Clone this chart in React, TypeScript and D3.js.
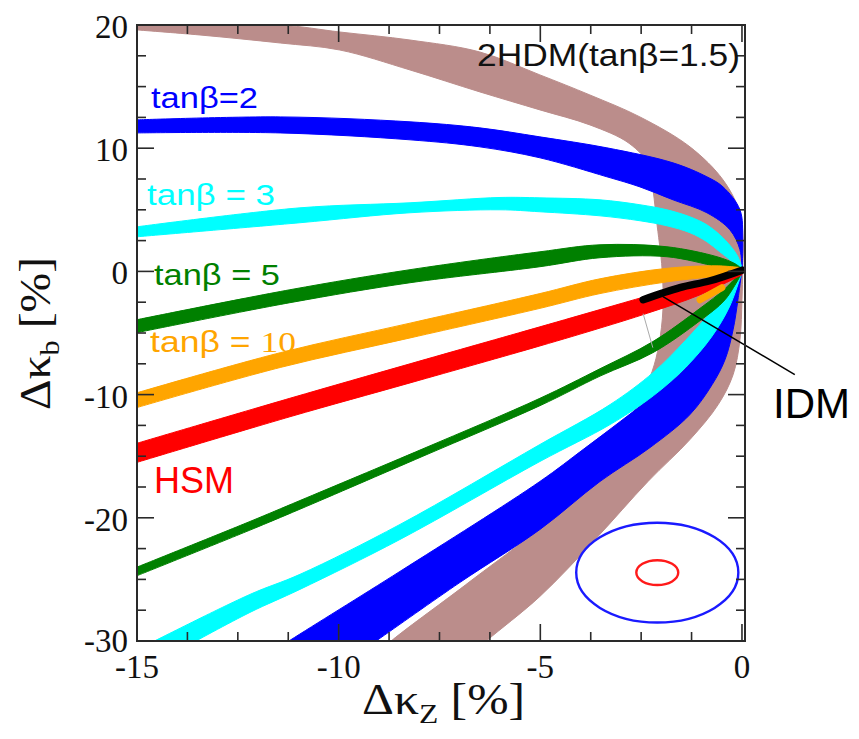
import React from 'react';
import * as d3 from 'd3';

type Pt = [number, number];

const W = 859;
const H = 739;

// ---- axes ----
const xDomain: [number, number] = [-15, 0.075];
const yDomain: [number, number] = [-30, 20];
const xMajorTicks = [-15, -10, -5, 0];
const xMinorTicks = [-13.75, -12.5, -11.25, -8.75, -7.5, -6.25, -3.75, -2.5, -1.25];
const yMajorTicks = [-30, -20, -10, 0, 10, 20];
const yMinorTicks = [-27.5, -25, -22.5, -17.5, -15, -12.5, -7.5, -5, -2.5, 2.5, 5, 7.5, 12.5, 15, 17.5];

// ---- bands (edges, in data units) ----
const brownOuter: Pt[] = [
  [-15.0, 20.05], [-11.45, 20.0], [-9.97, 19.43], [-8.23, 18.78], [-6.5, 17.81], [-5.01, 15.95],
  [-3.77, 14.32], [-2.53, 12.54], [-1.29, 10.11], [-0.47, 7.43], [-0.05, 4.76], [0.03, 2.5],
  [0.02, 0.14], [0.0, -2.3], [-0.05, -5.54], [-0.22, -8.38], [-0.59, -10.81], [-1.29, -13.65],
  [-2.33, -17.05], [-3.64, -21.76], [-5.01, -26.38], [-6.32, -29.95], [-6.75, -31.2],
];
const brownInner: Pt[] = [
  [-15.0, 19.6], [-13.44, 19.19], [-11.45, 18.54], [-9.97, 17.97], [-8.23, 16.35], [-6.5, 14.57],
  [-5.01, 13.11], [-3.77, 11.89], [-2.8, 10.4], [-2.3, 8.6], [-2.2, 6.5], [-2.12, 4.19], [-1.98, 0.14],
  [-1.96, -3.11], [-2.06, -5.95], [-2.23, -8.14], [-2.6, -10.81], [-3.27, -14.46], [-5.01, -20.7],
  [-6.74, -25.16], [-8.68, -29.95], [-9.1, -31.2],
];

const blueUpperTop: Pt[] = [
  [-15.0, 12.3], [-11.45, 12.54], [-8.23, 12.14], [-6.5, 11.65], [-5.01, 10.92], [-3.35, 10.03],
  [-1.71, 8.81], [-0.87, 7.68], [-0.47, 6.86], [-0.05, 5.0], [0.02, 2.57], [0.0, 0.14],
];
const blueUpperBottom: Pt[] = [
  [-15.0, 11.24], [-11.45, 11.24], [-8.23, 10.68], [-6.5, 10.11], [-5.01, 9.22], [-3.35, 7.68],
  [-2.53, 6.86], [-1.71, 5.81], [-0.87, 4.76], [-0.3, 3.38], [-0.05, 1.76], [0.0, 0.14],
];
const blueLowerLeft: Pt[] = [
  [0.0, 0.14], [-0.1, -1.08], [-0.35, -2.7], [-0.79, -5.14], [-1.36, -7.73], [-2.16, -10.0],
  [-3.02, -12.19], [-3.94, -14.46], [-5.01, -17.05], [-8.48, -24.35], [-11.21, -29.95], [-11.8, -31.2],
];
const blueLowerRight: Pt[] = [
  [0.0, 0.14], [-0.1, -2.3], [-0.22, -4.73], [-0.42, -7.16], [-0.74, -9.19], [-1.29, -11.62],
  [-2.28, -14.3], [-3.52, -17.05], [-5.01, -20.95], [-6.99, -25.24], [-9.05, -29.95], [-9.6, -31.2],
];

const cyanUpperTop: Pt[] = [
  [-15.0, 3.62], [-10.96, 5.16], [-8.23, 5.57], [-6.0, 6.0], [-5.01, 5.97], [-3.52, 5.81],
  [-2.53, 5.41], [-1.86, 5.0], [-1.29, 4.43], [-0.87, 3.78], [-0.55, 2.97], [-0.27, 2.0],
  [-0.1, 1.19], [0.0, 0.3],
];
const cyanUpperBottom: Pt[] = [
  [-15.0, 2.81], [-10.96, 3.95], [-8.23, 4.76], [-6.0, 5.0], [-5.01, 4.84], [-3.52, 4.51],
  [-2.53, 4.11], [-1.86, 3.7], [-1.29, 3.14], [-0.87, 2.41], [-0.55, 1.59], [-0.27, 0.86],
  [-0.1, 0.3], [0.0, -0.11],
];
const cyanLowerUpper: Pt[] = [
  [-14.73, -30.27], [-12.2, -26.22], [-10.96, -24.59], [-8.48, -20.54], [-5.01, -14.05],
  [-3.27, -10.81], [-2.2, -8.2], [-1.4, -5.6], [-0.75, -3.2], [-0.3, -1.3], [0.0, 0.1],
];
const cyanLowerLower: Pt[] = [
  [-13.69, -30.27], [-12.2, -27.68], [-10.96, -25.81], [-8.48, -21.76], [-5.01, -15.43],
  [-3.27, -12.43], [-2.2, -10.1], [-1.4, -7.8], [-0.75, -5.3], [-0.3, -2.8], [0.0, -0.03],
];

const greenUpperTop: Pt[] = [
  [-15.0, -3.92], [-11.21, -1.49], [-8.23, 0.14], [-5.01, 1.59], [-3.52, 2.16], [-1.86, 2.0],
  [-0.62, 1.19], [-0.17, 0.62], [0.0, 0.2],
];
const greenUpperBottom: Pt[] = [
  [-15.0, -4.97], [-11.21, -2.54], [-8.23, -0.92], [-5.01, 0.38], [-3.52, 1.11], [-1.86, 1.19],
  [-0.62, 0.38], [-0.17, 0.05], [0.0, -0.05],
];
const greenLowerUpper: Pt[] = [
  [-15.0, -24.0], [-12.2, -20.3], [-10.96, -18.6], [-7.91, -14.4], [-5.01, -10.3], [-3.52, -7.9],
  [-2.21, -5.7], [-1.04, -3.0], [-0.42, -1.4], [0.0, 0.05],
];
const greenLowerLower: Pt[] = [
  [-15.0, -24.7], [-12.2, -21.0], [-10.96, -19.3], [-7.91, -15.0], [-5.01, -10.9], [-3.52, -8.5],
  [-2.21, -6.6], [-1.04, -4.0], [-0.42, -2.3], [0.0, -0.1],
];

const orangeTop: Pt[] = [
  [-15.0, -9.85], [-11.45, -6.6], [-8.23, -4.2], [-5.01, -1.8], [-3.52, -0.6], [-1.86, 0.25],
  [-0.62, 0.45], [0.0, 0.3],
];
const orangeBottom: Pt[] = [
  [-15.0, -11.05], [-11.45, -7.8], [-8.23, -5.4], [-5.01, -3.0], [-3.52, -1.8], [-1.86, -0.85],
  [-0.62, -0.4], [0.0, -0.2],
];
const orangeBlob: Pt[] = [[-1.04, -2.3], [-0.5, -1.33]];

const redTop: Pt[] = [
  [-15.0, -13.95], [-11.21, -10.3], [-8.23, -7.5], [-5.01, -4.5], [-3.52, -3.1], [-2.35, -2.0],
  [-1.04, -0.8], [0.0, 0.22],
];
const redBottom: Pt[] = [
  [-15.0, -15.5], [-11.21, -11.8], [-8.23, -9.05], [-5.01, -6.05], [-3.52, -4.6], [-2.35, -3.4],
  [-1.04, -1.9], [0.0, -0.27],
];

const idmLine: Pt[] = [[-2.45, -2.3], [-1.54, -1.32], [-0.79, -0.76], [0.0, 0.1]];
const idmLeader: Pt[] = [[-1.96, -2.05], [1.31, -8.38]];
const greyTick: Pt[] = [[-2.45, -3.43], [-2.21, -6.19]];

const ellipseCenter: Pt = [-2.1, -24.45];
const ellipseRadii: Pt[] = [[2.01, 4.05], [0.52, 1.01]];
const ellipseColors = ['#1a1aff', '#ff1a1a'];

const BROWN = '#bb8d8b';
const BLUE = '#0000ff';
const CYAN = '#00ffff';
const GREEN = '#008000';
const ORANGE = '#ffa500';
const RED = '#ff0000';

const bands: { color: string; a: Pt[]; b: Pt[] }[] = [
  { color: BROWN, a: brownOuter, b: brownInner },
  { color: BLUE, a: blueUpperTop, b: blueUpperBottom },
  { color: BLUE, a: blueLowerLeft, b: blueLowerRight },
  { color: CYAN, a: cyanUpperTop, b: cyanUpperBottom },
  { color: CYAN, a: cyanLowerUpper, b: cyanLowerLower },
  { color: GREEN, a: greenUpperTop, b: greenUpperBottom },
  { color: GREEN, a: greenLowerUpper, b: greenLowerLower },
  { color: ORANGE, a: orangeTop, b: orangeBottom },
  { color: RED, a: redTop, b: redBottom },
];

const SANS = '"Liberation Sans", Arial, sans-serif';
const SERIF = '"Liberation Serif", "Times New Roman", serif';

export default function App() {
  const x = d3.scaleLinear().domain(xDomain).range([137, 745]);
  const y = d3.scaleLinear().domain(yDomain).range([641, 25]);

  const smooth = d3
    .line<Pt>()
    .x((d) => x(d[0]))
    .y((d) => y(d[1]))
    .curve(d3.curveCatmullRom.alpha(0.5));
  const straight = d3
    .line<Pt>()
    .x((d) => x(d[0]))
    .y((d) => y(d[1]));

  const bandPath = (a: Pt[], b: Pt[]) => {
    const p1 = smooth(a) as string;
    const p2 = smooth([...b].reverse()) as string;
    return p1 + 'L' + p2.slice(1) + 'Z';
  };

  const x0 = x(xDomain[0]);
  const x1 = x(xDomain[1]);
  const yTop = y(yDomain[1]);
  const yBot = y(yDomain[0]);
  const MAJ = 17;
  const MIN = 9;
  const axisColor = '#2a2a2a';

  return (
    <svg
      width={W}
      height={H}
      viewBox={`0 0 ${W} ${H}`}
      style={{ position: 'absolute', left: 0, top: 0, background: '#fff' }}
    >
      <defs>
        <clipPath id="plotClip">
          <rect x={x0 - 3} y={yTop} width={x1 - x0 + 3} height={yBot - yTop} />
        </clipPath>
      </defs>
      <rect x={0} y={0} width={W} height={H} fill="#fff" />

      <g clipPath="url(#plotClip)">
        {bands.map((bd, i) => (
          <path key={i} d={bandPath(bd.a, bd.b)} fill={bd.color} stroke={bd.color} strokeWidth={1} />
        ))}
        <path d={straight(orangeBlob) as string} stroke={ORANGE} strokeWidth={7} strokeLinecap="round" fill="none" />
        <path d={smooth(idmLine) as string} stroke="#000" strokeWidth={7.5} strokeLinecap="round" fill="none" />
        <path d={straight(greyTick) as string} stroke="#aaa" strokeWidth={1} fill="none" />
      </g>

      {/* ellipses */}
      {ellipseRadii.map((r, i) => (
        <ellipse
          key={i}
          cx={x(ellipseCenter[0])}
          cy={y(ellipseCenter[1])}
          rx={x(ellipseCenter[0] + r[0]) - x(ellipseCenter[0])}
          ry={y(ellipseCenter[1]) - y(ellipseCenter[1] + r[1])}
          fill="none"
          stroke={ellipseColors[i]}
          strokeWidth={2.4}
        />
      ))}

      {/* IDM leader */}
      <path d={straight(idmLeader) as string} stroke="#000" strokeWidth={1.5} fill="none" />

      {/* frame */}
      <rect x={x0} y={yTop} width={x1 - x0} height={yBot - yTop} fill="none" stroke={axisColor} strokeWidth={2} />

      {/* ticks */}
      <g stroke={axisColor} strokeWidth={1.6}>
        {xMajorTicks.map((t) => (
          <g key={'xM' + t}>
            <line x1={x(t)} x2={x(t)} y1={yBot} y2={yBot - MAJ} />
            <line x1={x(t)} x2={x(t)} y1={yTop} y2={yTop + MAJ} />
          </g>
        ))}
        {xMinorTicks.map((t) => (
          <g key={'xm' + t}>
            <line x1={x(t)} x2={x(t)} y1={yBot} y2={yBot - MIN} />
            <line x1={x(t)} x2={x(t)} y1={yTop} y2={yTop + MIN} />
          </g>
        ))}
        {yMajorTicks.map((t) => (
          <g key={'yM' + t}>
            <line x1={x0} x2={x0 + MAJ} y1={y(t)} y2={y(t)} />
            <line x1={x1} x2={x1 - MAJ} y1={y(t)} y2={y(t)} />
          </g>
        ))}
        {yMinorTicks.map((t) => (
          <g key={'ym' + t}>
            <line x1={x0} x2={x0 + MIN} y1={y(t)} y2={y(t)} />
            <line x1={x1} x2={x1 - MIN} y1={y(t)} y2={y(t)} />
          </g>
        ))}
      </g>

      {/* tick labels */}
      <g fontFamily={SERIF} fontSize={33} fill="#111">
        {xMajorTicks.map((t) => (
          <text key={'xl' + t} x={x(t)} y={678} textAnchor="middle">
            {String(t)}
          </text>
        ))}
        {yMajorTicks.map((t) => (
          <text key={'yl' + t} x={128} y={y(t) + (t === -30 ? 11 : 13)} textAnchor="end">
            {String(t)}
          </text>
        ))}
      </g>

      {/* axis titles */}
      <text x={443.5} y={714} fontFamily={SERIF} fontSize={44} textAnchor="middle" fill="#111" textLength={163} lengthAdjust="spacingAndGlyphs">
        Δκ<tspan fontSize={28} dy={9}>Z</tspan>
        <tspan dy={-9}> [%]</tspan>
      </text>
      <text
        transform="translate(50,333.5) rotate(-90)"
        fontFamily={SERIF}
        fontSize={44}
        textAnchor="middle"
        fill="#111"
        textLength={153}
        lengthAdjust="spacingAndGlyphs"
      >
        Δκ<tspan fontSize={28} dy={9}>b</tspan>
        <tspan dy={-9}> [%]</tspan>
      </text>

      {/* annotations */}
      <g fontFamily={SANS}>
        <text x={477} y={66} fontSize={32} fill="#111" textLength={263} lengthAdjust="spacingAndGlyphs">
          2HDM(tanβ=1.5)
        </text>
        <text x={151} y={108} fontSize={29} fill={BLUE} textLength={107} lengthAdjust="spacingAndGlyphs">
          tanβ=2
        </text>
        <text x={147} y={205} fontSize={29} fill={CYAN} textLength={128} lengthAdjust="spacingAndGlyphs">
          tanβ = 3
        </text>
        <text x={154} y={285} fontSize={29} fill={GREEN} textLength={126} lengthAdjust="spacingAndGlyphs">
          tanβ = 5
        </text>
        <text x={150} y={352} fontSize={29} fill={ORANGE} textLength={146} lengthAdjust="spacingAndGlyphs">
          tanβ = <tspan fontFamily={SERIF}>10</tspan>
        </text>
        <text x={154} y={493} fontSize={36} fill={RED}>
          HSM
        </text>
        <text x={773} y={418} fontSize={42} fill="#000">
          IDM
        </text>
      </g>
    </svg>
  );
}
